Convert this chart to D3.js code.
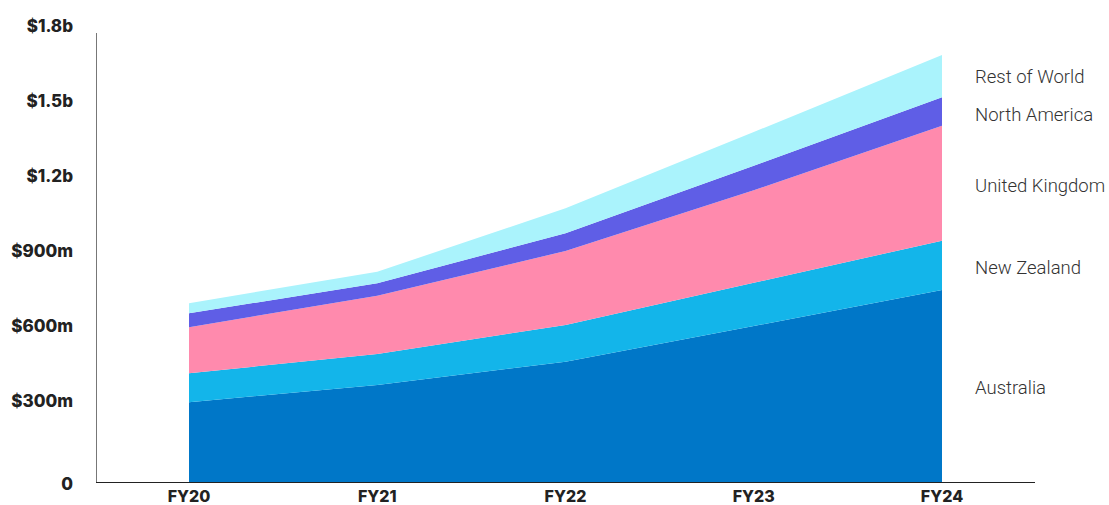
<!DOCTYPE html>
<html>
<head>
<meta charset="utf-8">
<script src="https://cdn.jsdelivr.net/npm/d3@7"></script>
<style>
  body { margin: 0; background: #fff; }
  .tick-y, .tick-x { font-family: Inter, "Liberation Sans", sans-serif; font-weight: 800; fill: #222; }
  .series-label { font-family: Roboto, "Open Sans", sans-serif; font-weight: 300; fill: #333; }
</style>
</head>
<body>
<div id="chart"></div>
<script>
var years = ['FY20', 'FY21', 'FY22', 'FY23', 'FY24'];
var seriesNames = ['Australia', 'New Zealand', 'United Kingdom', 'North America', 'Rest of World'];
// revenue by region, $m
var australia   = [319, 388, 481, 624, 768];
var newZealand  = [116, 124, 147, 173, 197];
var unitedKingdom = [184, 233, 296, 370, 460];
var northAmerica = [56, 50, 71, 98, 114];
var restOfWorld = [40, 46, 100, 135, 169];
var colors = ['#0077c8', '#13b5ea', '#ff8aad', '#5f5ee6', '#aaf3fc'];
var yTicks = [0, 300, 600, 900, 1200, 1500, 1800];
var yTickLabels = ['0', '$300m', '$600m', '$900m', '$1.2b', '$1.5b', '$1.8b'];

var width = 1109, height = 505;
var svg = d3.select('#chart').append('svg').attr('width', width).attr('height', height);

var x = d3.scalePoint().domain(years).range([189, 942]);
var y = d3.scaleLinear().domain([0, 1800]).range([482, 32]);

var values = [australia, newZealand, unitedKingdom, northAmerica, restOfWorld];
var table = years.map(function(yr, i) {
    var row = { year: yr };
    seriesNames.forEach(function(n, j) { row[n] = values[j][i]; });
    return row;
});
var stacked = d3.stack().keys(seriesNames)(table);

var area = d3.area()
    .x(function(d) { return x(d.data.year); })
    .y0(function(d) { return y(d[0]); })
    .y1(function(d) { return y(d[1]); })
    .curve(d3.curveLinear);

svg.append('g').selectAll('path')
    .data(stacked)
    .enter().append('path')
    .attr('d', area)
    .attr('fill', function(d, i) { return colors[i]; });

// axes
svg.append('line').attr('x1', 96.5).attr('x2', 96.5).attr('y1', 33).attr('y2', 482)
    .attr('stroke', '#777').attr('stroke-width', 1);
svg.append('line').attr('x1', 96).attr('x2', 1035).attr('y1', 482.5).attr('y2', 482.5)
    .attr('stroke', '#222').attr('stroke-width', 1.2);

svg.append('g').selectAll('text')
    .data(yTicks)
    .enter().append('text')
    .attr('class', 'tick-y')
    .attr('x', 73)
    .attr('y', function(d) { return y(d) + (d === 0 ? 2 : -6); })
    .attr('dy', '0.35em')
    .attr('text-anchor', 'end')
    .style('font-size', '17px')
    .text(function(d, i) { return yTickLabels[i]; });

svg.append('g').selectAll('text')
    .data(years)
    .enter().append('text')
    .attr('class', 'tick-x')
    .attr('x', function(d) { return x(d); })
    .attr('y', 496)
    .attr('dy', '0.35em')
    .attr('text-anchor', 'middle')
    .style('font-size', '16px')
    .text(function(d) { return d; });

// labels at the right, centred on each band at the last year
var last = years.length - 1;
var labelY = stacked.map(function(s) { return y((s[last][0] + s[last][1]) / 2); });
for (var k = 1; k < labelY.length; k++) {
    if (labelY[k - 1] - labelY[k] < 38) {
        var mid = (labelY[k - 1] + labelY[k]) / 2;
        labelY[k - 1] = mid + 19;
        labelY[k] = mid - 19;
    }
}
svg.append('g').selectAll('text')
    .data(seriesNames)
    .enter().append('text')
    .attr('class', 'series-label')
    .attr('x', 975)
    .attr('y', function(d, i) { return labelY[i] + 2; })
    .attr('dy', '0.35em')
    .style('font-size', '18.5px')
    .text(function(d) { return d; });
</script>
</body>
</html>
